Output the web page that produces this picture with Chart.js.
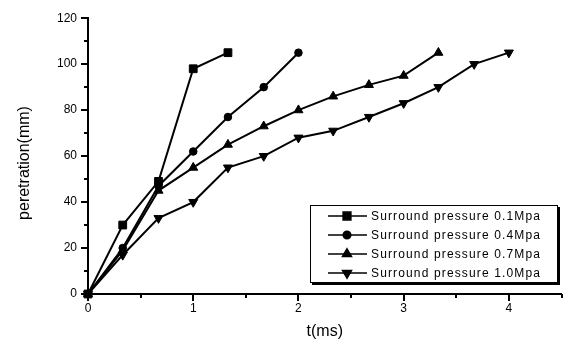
<!DOCTYPE html>
<html>
<head>
<meta charset="utf-8">
<script src="https://cdn.jsdelivr.net/npm/chart.js@4/dist/chart.umd.min.js"></script>
<style>
  html, body { margin: 0; padding: 0; background: #fff; }
</style>
</head>
<body>
<canvas id="chart" width="568" height="349"></canvas>
<script>
// values
const seriesNames = [
  "Surround pressure 0.1Mpa",
  "Surround pressure 0.4Mpa",
  "Surround pressure 0.7Mpa",
  "Surround pressure 1.0Mpa"
];
const time01 = [0, 0.33, 0.67, 1.0, 1.33];
const pen01  = [0, 30, 49, 98, 105];
const time04 = [0, 0.33, 0.67, 1.0, 1.33, 1.67, 2.0];
const pen04  = [0, 20, 47, 62, 77, 90, 105];
const time07 = [0, 0.33, 0.67, 1.0, 1.33, 1.67, 2.0, 2.33, 2.67, 3.0, 3.33];
const pen07  = [0, 19, 45, 55, 65, 73, 80, 86, 91, 95, 105];
const time10 = [0, 0.33, 0.67, 1.0, 1.33, 1.67, 2.0, 2.33, 2.67, 3.0, 3.33, 3.67, 4.0];
const pen10  = [0, 17, 33, 40, 55, 60, 68, 71, 77, 83, 90, 100, 105];
const xTicks = [0, 1, 2, 3, 4];
const yTicks = [0, 20, 40, 60, 80, 100, 120];

const markers = [
  { style: "rect", radius: 5.5, rotation: 0 },
  { style: "circle", radius: 3.8, rotation: 0 },
  { style: "triangle", radius: 5.2, rotation: 0 },
  { style: "triangle", radius: 5.2, rotation: 180 }
];

function toPoints(xs, ys) {
  return xs.map((x, i) => ({ x: x, y: ys[i] }));
}

const seriesData = [
  toPoints(time01, pen01),
  toPoints(time04, pen04),
  toPoints(time07, pen07),
  toPoints(time10, pen10)
];

const datasets = seriesData.map((pts, i) => ({
  label: seriesNames[i],
  data: pts,
  borderColor: "#000",
  backgroundColor: "#000",
  borderWidth: 2,
  pointStyle: markers[i].style,
  pointRadius: markers[i].radius,
  pointRotation: markers[i].rotation,
  pointBorderWidth: 1,
  tension: 0,
  clip: false
}));

const FONT = "'Liberation Sans', Arial, sans-serif";

// minor + major tick marks pointing outward, axis titles, boxed legend
const decorations = {
  id: "decorations",
  afterDraw(chart) {
    const ctx = chart.ctx;
    const xs = chart.scales.x, ys = chart.scales.y;
    const area = chart.chartArea;
    ctx.save();
    ctx.strokeStyle = "#000";
    ctx.lineWidth = 2;
    for (let v = 0; v <= 4.5; v += 0.5) {
      const px = Math.round(xs.getPixelForValue(v));
      const len = (v % 1 === 0) ? 7 : 4;
      ctx.beginPath();
      ctx.moveTo(px, area.bottom);
      ctx.lineTo(px, area.bottom + len);
      ctx.stroke();
    }
    for (let v = 0; v <= 120; v += 10) {
      const py = Math.round(ys.getPixelForValue(v));
      const len = (v % 20 === 0) ? 7 : 4;
      ctx.beginPath();
      ctx.moveTo(area.left, py);
      ctx.lineTo(area.left - len, py);
      ctx.stroke();
    }

    // axis titles
    ctx.fillStyle = "#000";
    ctx.font = "16px " + FONT;
    ctx.textAlign = "center";
    ctx.textBaseline = "middle";
    ctx.fillText("t(ms)", (area.left + area.right) / 2, 332);
    ctx.save();
    ctx.translate(25, 163);
    ctx.rotate(-Math.PI / 2);
    ctx.fillText("peretration(mm)", 0, 0);
    ctx.restore();

    // legend box
    const bx = 310, by = 205, bw = 248, bh = 78;
    ctx.fillStyle = "#000";
    ctx.fillRect(bx + 2, by + 2, bw, bh);
    ctx.fillStyle = "#fff";
    ctx.fillRect(bx, by, bw, bh);
    ctx.lineWidth = 1;
    ctx.strokeRect(bx + 0.5, by + 0.5, bw - 1, bh - 1);

    ctx.font = "12px " + FONT;
    ctx.textAlign = "left";
    ctx.textBaseline = "middle";
    const rowY = [216, 235, 254, 273];
    seriesNames.forEach((name, i) => {
      const y = rowY[i];
      ctx.strokeStyle = "#000";
      ctx.lineWidth = 1.5;
      ctx.beginPath();
      ctx.moveTo(328, y);
      ctx.lineTo(367, y);
      ctx.stroke();
      ctx.fillStyle = "#000";
      Chart.helpers.drawPoint(ctx, {
        pointStyle: markers[i].style,
        radius: markers[i].radius,
        rotation: markers[i].rotation,
        borderWidth: 1
      }, 347, y);
      ctx.fillStyle = "#000";
      ctx.letterSpacing = "0px";
      const w = ctx.measureText(name).width;
      ctx.letterSpacing = ((170 - w) / name.length).toFixed(2) + "px";
      ctx.fillText(name, 371, y + 1);
      ctx.letterSpacing = "0px";
    });
    ctx.restore();
  }
};

new Chart(document.getElementById("chart"), {
  type: "line",
  data: { datasets: datasets },
  options: {
    responsive: false,
    animation: false,
    layout: { padding: { left: 0, top: 12, right: 4, bottom: 0 } },
    plugins: {
      legend: { display: false },
      tooltip: { enabled: false }
    },
    scales: {
      x: {
        type: "linear",
        min: 0,
        max: 4.5,
        afterFit(scale) { scale.height = 55; },
        afterBuildTicks(scale) { scale.ticks = xTicks.map(v => ({ value: v })); },
        ticks: {
          color: "#000",
          font: { family: FONT, size: 12 },
          padding: 7,
          maxRotation: 0,
          callback: v => String(v)
        },
        grid: { display: true, drawOnChartArea: false, drawTicks: false },
        border: { display: true, color: "#000", width: 2 }
      },
      y: {
        type: "linear",
        min: 0,
        max: 120,
        afterFit(scale) { scale.width = 88; },
        afterBuildTicks(scale) { scale.ticks = yTicks.map(v => ({ value: v })); },
        ticks: {
          color: "#000",
          font: { family: FONT, size: 12 },
          padding: 11,
          callback: v => String(v)
        },
        grid: { display: true, drawOnChartArea: false, drawTicks: false },
        border: { display: true, color: "#000", width: 2 }
      }
    }
  },
  plugins: [decorations]
});
</script>
</body>
</html>
